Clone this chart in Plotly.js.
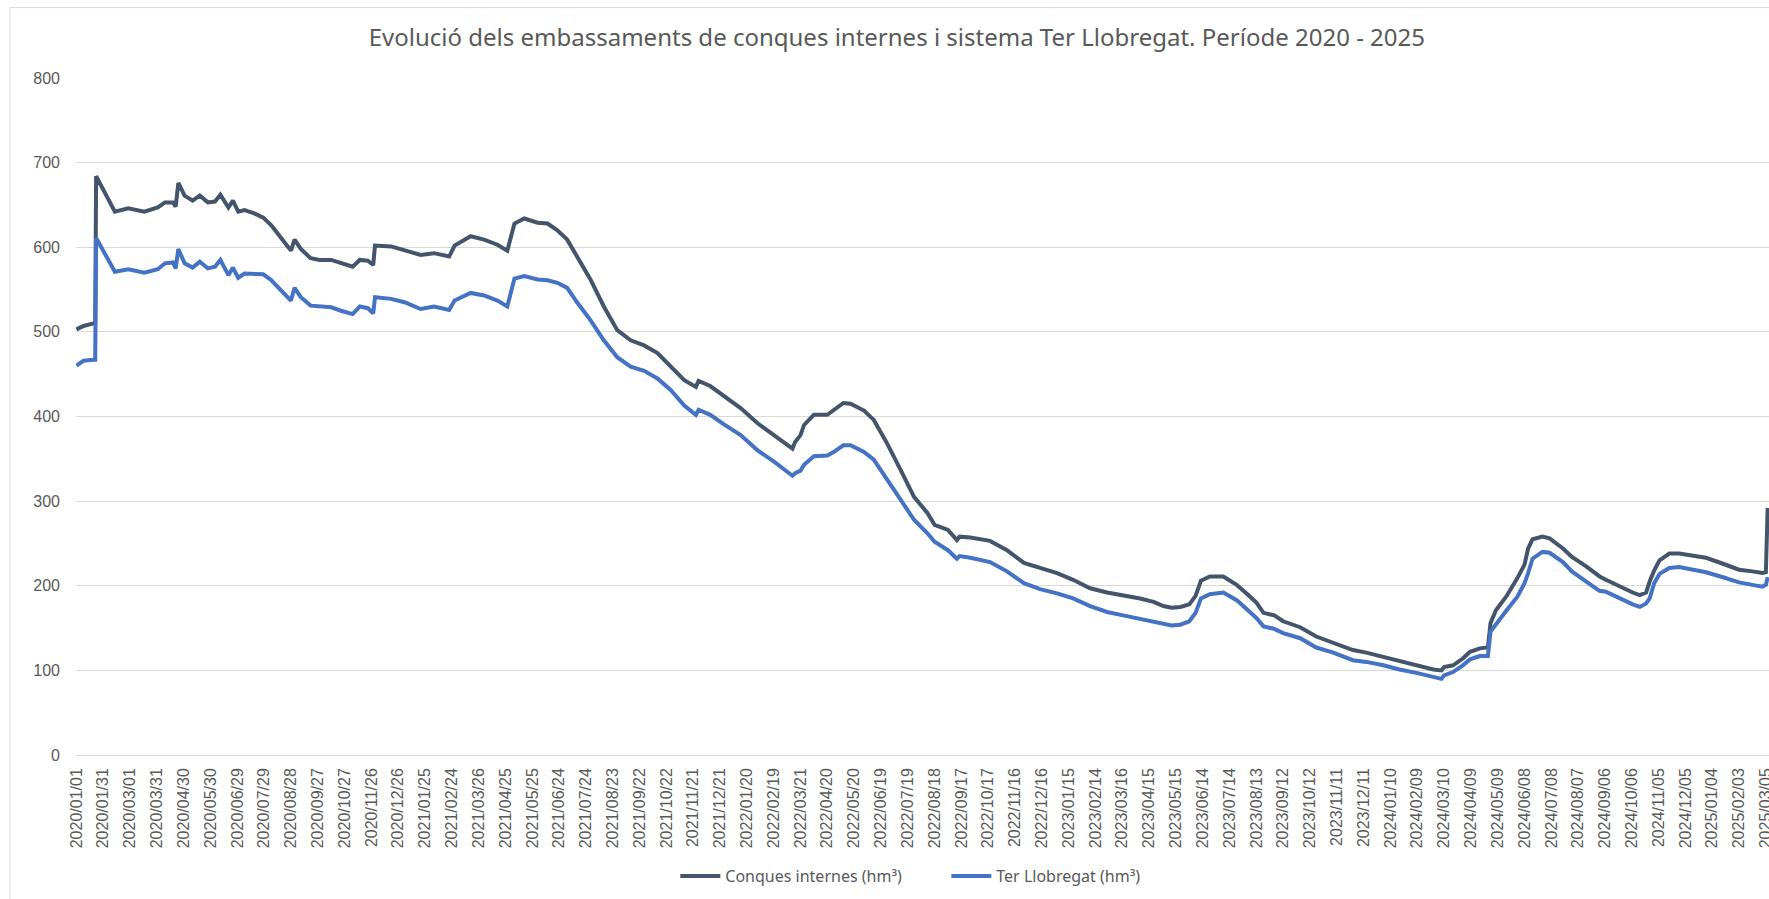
<!DOCTYPE html>
<html>
<head>
<meta charset="utf-8">
<script src="https://cdn.plot.ly/plotly-3.0.1.min.js"></script>
<style>
html,body{margin:0;padding:0;background:#fff;overflow:hidden;}
#chart{width:1769px;height:899px;}
</style>
</head>
<body>
<div id="chart"></div>
<script>
const dates = [
"2020-01-01","2020-01-09","2020-01-20","2020-01-22","2020-01-23","2020-02-01","2020-02-13","2020-02-28","2020-03-17","2020-04-01",
"2020-04-09","2020-04-18","2020-04-21","2020-04-24","2020-05-01","2020-05-10","2020-05-18","2020-05-27","2020-06-04","2020-06-10",
"2020-06-19","2020-06-24","2020-06-30","2020-07-07","2020-07-18","2020-07-28","2020-08-06","2020-08-17","2020-08-28","2020-09-01",
"2020-09-08","2020-09-19","2020-09-29","2020-10-12","2020-10-23","2020-11-05","2020-11-13","2020-11-22","2020-11-28","2020-11-30",
"2020-12-18","2021-01-02","2021-01-20","2021-02-04","2021-02-21","2021-02-27","2021-03-17","2021-04-01","2021-04-16","2021-04-27",
"2021-05-05","2021-05-16","2021-05-31","2021-06-11","2021-06-22","2021-07-03","2021-07-14","2021-07-29","2021-08-13","2021-08-28",
"2021-09-12","2021-09-27","2021-10-12","2021-10-27","2021-11-11","2021-11-24","2021-11-27","2021-12-10","2021-12-25","2022-01-13",
"2022-02-01","2022-02-19","2022-03-12","2022-03-15","2022-03-21","2022-03-25","2022-04-05","2022-04-20","2022-04-27","2022-05-08",
"2022-05-16","2022-05-31","2022-06-11","2022-06-26","2022-07-11","2022-07-26","2022-08-10","2022-08-18","2022-09-02","2022-09-12",
"2022-09-15","2022-09-27","2022-10-19","2022-11-07","2022-11-26","2022-12-14","2023-01-02","2023-01-20","2023-02-08","2023-02-27",
"2023-03-17","2023-04-05","2023-04-20","2023-05-01","2023-05-10","2023-05-20","2023-05-30","2023-06-06","2023-06-12","2023-06-22",
"2023-07-07","2023-07-22","2023-08-03","2023-08-13","2023-08-21","2023-09-02","2023-09-12","2023-10-01","2023-10-19","2023-11-07",
"2023-11-29","2023-12-14","2024-01-02","2024-01-20","2024-02-08","2024-02-27","2024-03-07","2024-03-10","2024-03-20","2024-03-31",
"2024-04-08","2024-04-19","2024-04-28","2024-05-01","2024-05-07","2024-05-19","2024-05-31","2024-06-08","2024-06-12","2024-06-17",
"2024-06-28","2024-07-06","2024-07-21","2024-07-31","2024-08-16","2024-08-31","2024-09-07","2024-09-22","2024-10-07","2024-10-15",
"2024-10-22","2024-10-26","2024-10-31","2024-11-06","2024-11-17","2024-11-28","2024-12-09","2024-12-28","2025-01-16","2025-02-03",
"2025-02-18","2025-03-01","2025-03-05","2025-03-07"
];
const conquesInternes = [
503,507,510,510,684,667,642,646,642,647,
653,653,648,676,661,655,661,653,654,662,
647,655,642,644,640,635,626,611,596,609,
598,587,585,585,581,577,585,584,579,602,
601,597,591,593,589,602,613,609,603,596,
628,634,629,628,620,609,589,562,530,502,
490,484,475,459,443,435,442,436,425,410,
392,378,362,370,378,390,402,402,407,416,
415,407,396,368,337,305,286,272,266,254,
258,257,253,242,227,221,215,207,197,192,
189,185,181,176,174,175,178,188,206,211,
211,201,190,180,168,165,158,151,140,133,
124,121,116,112,106,101,100,104,106,114,
122,126,127,156,171,188,209,225,244,255,
258,256,244,234,223,211,207,199,192,189,
192,205,218,230,238,238,236,233,226,219,
217,215,216,292
];
const terLlobregat = [
460,466,467,467,611,593,571,574,570,574,
581,582,575,598,581,576,583,575,577,585,
567,576,564,569,568,568,561,549,537,552,
541,531,530,529,525,521,530,528,522,541,
539,535,527,530,526,537,546,543,537,530,
563,566,562,561,558,552,535,514,490,470,
459,454,445,431,413,402,408,402,391,378,
360,347,330,333,336,343,353,354,358,366,
366,358,349,325,301,278,262,252,242,232,
235,233,228,217,203,196,191,185,176,169,
165,161,158,155,153,154,158,168,185,190,
192,183,172,162,152,149,144,138,127,121,
112,110,106,101,97,92,90,94,98,106,
113,117,117,146,155,171,187,203,215,232,
240,239,228,217,205,194,193,185,178,175,
179,185,203,214,221,222,220,216,210,204,
201,199,201,210
];
const seriesNames = ["Conques internes (hm³)", "Ter Llobregat (hm³)"];
const chartTitle = "Evolució dels embassaments de conques internes i sistema Ter Llobregat. Període 2020 - 2025";

const textColor = "#595959";
const traces = [
  {x: dates, y: conquesInternes, name: seriesNames[0], type: "scatter", mode: "lines",
   line: {color: "#44546A", width: 4}, hoverinfo: "x+y"},
  {x: dates, y: terLlobregat, name: seriesNames[1], type: "scatter", mode: "lines",
   line: {color: "#4472C4", width: 4}, hoverinfo: "x+y"}
];
const layout = {
  width: 1769, height: 899,
  margin: {l: 76, r: 0, t: 78, b: 144, pad: 0},
  paper_bgcolor: "#ffffff", plot_bgcolor: "#ffffff",
  title: {text: chartTitle, font: {family: "Noto Sans", size: 24, color: textColor},
          xref: "container", x: 0.507, xanchor: "center", yref: "container", y: 0.958, yanchor: "middle"},
  xaxis: {
    type: "date",
    range: ["2019-12-31 12:00", "2025-03-08 12:00"],
    tickmode: "linear", tick0: "2020-01-01", dtick: 30 * 86400000,
    tickformat: "%Y/%m/%d", tickangle: -90,
    showgrid: false, zeroline: false, showline: false, ticks: "",
    ticklabelstandoff: 9, ticklabeloverflow: "allow",
    tickfont: {family: "Liberation Sans", size: 16, color: textColor}
  },
  yaxis: {
    range: [0, 800], dtick: 100, tick0: 0,
    showgrid: true, gridcolor: "#D9D9D9", gridwidth: 1,
    zeroline: true, zerolinecolor: "#D9D9D9", zerolinewidth: 1,
    showline: false, ticks: "", ticklabelstandoff: 15,
    tickfont: {family: "Liberation Sans", size: 16, color: textColor}
  },
  showlegend: true,
  legend: {orientation: "h", x: 0.354, xanchor: "left", y: -0.179, yanchor: "middle",
           font: {family: "Noto Sans", size: 16, color: textColor}, itemwidth: 40,
           entrywidth: 216, entrywidthmode: "pixels",
           bgcolor: "rgba(0,0,0,0)"},
  shapes: [
    {type: "line", xref: "paper", yref: "paper", x0: -0.039, x1: 1.01, y0: 1.104, y1: 1.104,
     line: {color: "#D9D9D9", width: 1}},
    {type: "line", xref: "paper", yref: "paper", x0: -0.039, x1: -0.039, y0: 1.104, y1: -0.22,
     line: {color: "#D9D9D9", width: 1}}
  ]
};
Plotly.newPlot("chart", traces, layout, {displayModeBar: false, staticPlot: true});
</script>
</body>
</html>
